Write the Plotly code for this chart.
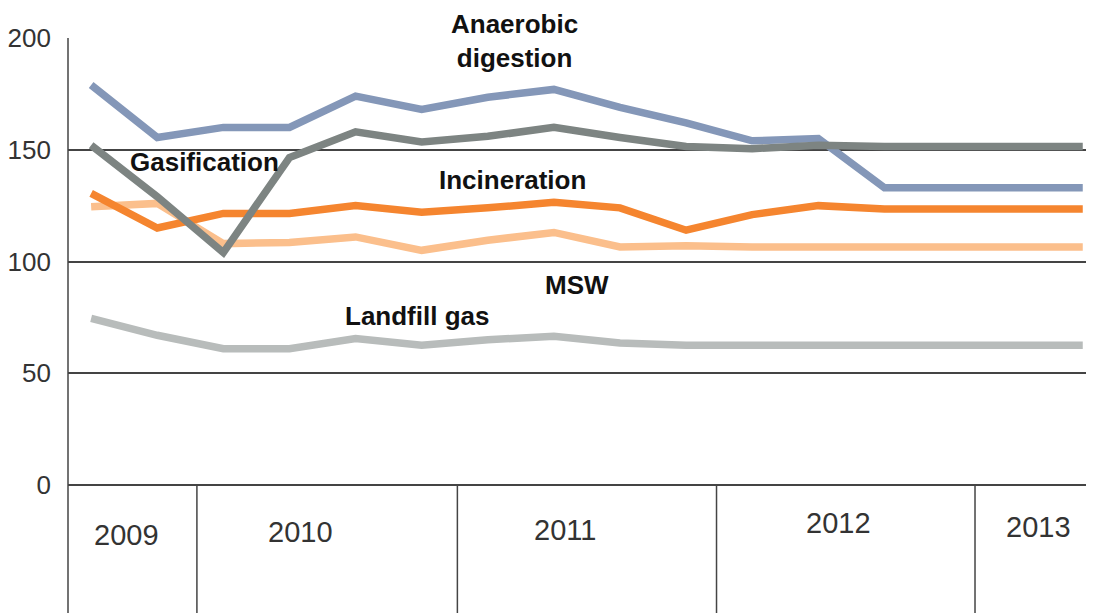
import plotly.graph_objects as go

quarters = ["2009 Q3", "2009 Q4",
            "2010 Q1", "2010 Q2", "2010 Q3", "2010 Q4",
            "2011 Q1", "2011 Q2", "2011 Q3", "2011 Q4",
            "2012 Q1", "2012 Q2", "2012 Q3", "2012 Q4",
            "2013 Q1", "2013 Q2"]

anaerobic = [179, 155.5, 160, 160, 174, 168, 173.5, 177, 169, 162, 154, 155, 133, 133, 133, 133]
gasification = [152, 129, 104, 146.5, 158, 153.5, 156, 160, 155.5, 151.5, 150.5, 152, 151.5, 151.5, 151.5, 151.5]
incineration = [130.5, 115, 121.5, 121.5, 125, 122, 124, 126.5, 124, 114, 121, 125, 123.5, 123.5, 123.5, 123.5]
msw = [124.5, 126, 108, 108.5, 111, 105, 109.5, 113, 106.5, 107, 106.5, 106.5, 106.5, 106.5, 106.5, 106.5]
landfill = [74.5, 67, 61, 61, 65.5, 62.5, 65, 66.5, 63.5, 62.5, 62.5, 62.5, 62.5, 62.5, 62.5, 62.5]

years = ["2009", "2010", "2011", "2012", "2013"]

font_reg = "Liberation Sans, Arial, sans-serif"

fig = go.Figure()
series = [
    ("Landfill gas", landfill, "#b8bcbb"),
    ("MSW", msw, "#fbbf8c"),
    ("Incineration", incineration, "#f5852f"),
    ("Anaerobic digestion", anaerobic, "#8497b8"),
    ("Gasification", gasification, "#7d8482"),
]
for name, vals, col in series:
    fig.add_trace(go.Scatter(x=quarters, y=vals, mode="lines", name=name,
                             line=dict(color=col, width=7.5), cliponaxis=False))

# series labels
labels = [
    ("Anaerobic<br>digestion", 6.4, 198.5),
    ("Gasification", 1.71, 144.5),
    ("Incineration", 6.37, 136.5),
    ("MSW", 7.35, 89.5),
    ("Landfill gas", 4.93, 75.6),
]
for txt, xx, yy in labels:
    fig.add_annotation(x=xx, y=yy, text="<b>" + txt + "</b>", showarrow=False,
                       font=dict(family=font_reg, size=26, color="#111111"))

# year table under the axis
sep_x = [1.6, 5.54, 9.46, 13.37]
for sx in sep_x:
    fig.add_shape(type="line", xref="x", yref="paper", x0=sx, x1=sx, y0=0, y1=-0.3,
                  line=dict(color="#444444", width=1.5))
fig.add_shape(type="line", xref="paper", yref="paper", x0=0, x1=0, y0=-0.3, y1=1,
              line=dict(color="#444444", width=1.5))

year_x = [0.53, 3.16, 7.17, 11.3, 14.33]
year_y = [-0.112, -0.105, -0.1, -0.085, -0.094]
for yr, xx, yy in zip(years, year_x, year_y):
    fig.add_annotation(x=xx, y=yy, xref="x", yref="paper", text=yr, showarrow=False,
                       xanchor="center", yanchor="middle",
                       font=dict(family=font_reg, size=29, color="#333333"))

# page body adds an 8px margin, so the figure is a bit smaller
fig.update_layout(
    width=1086, height=605,
    margin=dict(l=60, r=0, t=30, b=128, autoexpand=False),
    paper_bgcolor="white", plot_bgcolor="white",
    showlegend=False,
    xaxis=dict(range=[-0.35, 15.17], showticklabels=False, showgrid=False,
               zeroline=False, showline=False, ticks="", automargin=False),
    yaxis=dict(range=[0, 200], tickvals=[0, 50, 100, 150, 200], showgrid=True,
               gridcolor="#444444", gridwidth=1.5, zeroline=True, zerolinecolor="#444444",
               zerolinewidth=1.5, showline=False, ticks="", ticklabelstandoff=16,
               automargin=False,
               tickfont=dict(family=font_reg, size=26, color="#333333")),
)

fig.write_html("out.html")
